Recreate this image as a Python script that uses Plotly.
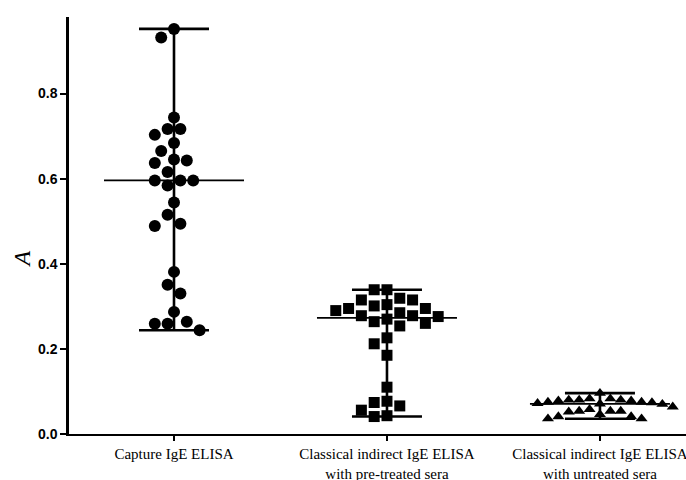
import plotly.graph_objects as go

# ---- data -------------------------------------------------------------
categories = [
    "Capture IgE ELISA",
    "Classical indirect IgE ELISA<br>with pre-treated sera",
    "Classical indirect IgE ELISA<br>with untreated sera",
]

capture_abs = [0.952, 0.932, 0.744, 0.717, 0.717, 0.703, 0.684, 0.665, 0.645,
               0.643, 0.637, 0.616, 0.596, 0.596, 0.596, 0.584, 0.544, 0.515,
               0.494, 0.489, 0.381, 0.351, 0.330, 0.287, 0.264, 0.259, 0.259,
               0.244]

pretreated_abs = [0.339, 0.339, 0.319, 0.315, 0.315, 0.304, 0.301, 0.295,
                  0.295, 0.290, 0.285, 0.278, 0.278, 0.276, 0.270, 0.264,
                  0.260, 0.254, 0.226, 0.212, 0.185, 0.110, 0.077, 0.074,
                  0.066, 0.056, 0.043, 0.041]

untreated_abs = [0.096, 0.083, 0.083, 0.080, 0.080, 0.080, 0.078, 0.078,
                 0.075, 0.075, 0.074, 0.072, 0.071, 0.070, 0.064, 0.058,
                 0.054, 0.054, 0.054, 0.052, 0.046, 0.041, 0.041, 0.036,
                 0.036]

y_ticks = [0.0, 0.2, 0.4, 0.6, 0.8]

# ---- layout geometry --------------------------------------------------
W, H = 686, 480
M_L, M_R, M_T, M_B = 69, 0, 17, 46
X_RANGE = [0.507, 3.404]
Y_RANGE = [0.0, 0.98]
plot_w = W - M_L - M_R
plot_h = H - M_T - M_B
px_per_x = plot_w / (X_RANGE[1] - X_RANGE[0])
px_per_y = plot_h / (Y_RANGE[1] - Y_RANGE[0])


def swarm_offsets(values, diam, step):
    """Beeswarm layout: push each point sideways until it clears the others."""
    placed = []
    offsets = []
    for i, v in enumerate(values):
        py = v * px_per_y
        sign = 1 if i % 2 == 0 else -1
        cands = [0.0]
        for k in range(1, 60):
            cands += [sign * k * step, -sign * k * step]
        chosen = cands[-1]
        for c in cands:
            if all((c - qx) ** 2 + (py - qy) ** 2 >= diam ** 2 for qx, qy in placed):
                chosen = c
                break
        placed.append((chosen, py))
        offsets.append(chosen / px_per_x)
    return offsets


def median(vals):
    s = sorted(vals)
    n = len(s)
    return s[n // 2] if n % 2 else 0.5 * (s[n // 2 - 1] + s[n // 2])


groups = [
    (capture_abs, "circle", 12, 12.8, 6.4),
    (pretreated_abs, "square", 11, 12.6, 6.4),
    (untreated_abs, "triangle-up", 10.5, 10.4, 5.2),
]

fig = go.Figure()

cap_half = 35 / px_per_x
med_half = 70 / px_per_x

for gi, (vals, symbol, msize, diam, step) in enumerate(groups):
    pos = gi + 1
    lo, hi, md = min(vals), max(vals), median(vals)
    # range whisker with caps
    fig.add_trace(go.Scatter(
        x=[pos, pos, None, pos - cap_half, pos + cap_half, None,
           pos - cap_half, pos + cap_half],
        y=[lo, hi, None, hi, hi, None, lo, lo],
        mode="lines", line=dict(color="black", width=2.6),
        hoverinfo="skip", showlegend=False))
    # median line
    fig.add_trace(go.Scatter(
        x=[pos - med_half, pos + med_half], y=[md, md],
        mode="lines", line=dict(color="black", width=1.8),
        hoverinfo="skip", showlegend=False))
    # individual points
    offs = swarm_offsets(vals, diam, step)
    fig.add_trace(go.Scatter(
        x=[pos + o for o in offs], y=vals, mode="markers",
        marker=dict(symbol=symbol, size=msize, color="black",
                    line=dict(width=0)),
        showlegend=False))

fig.add_annotation(
    x=0, xref="paper", xshift=-47, y=0.41, yref="y",
    text="A", textangle=-90, showarrow=False,
    xanchor="center", yanchor="middle",
    font=dict(family="Liberation Serif", size=24, color="black",
              style="italic"))

fig.update_layout(
    width=W, height=H,
    margin=dict(l=M_L, r=M_R, t=M_T, b=M_B, pad=0, autoexpand=False),
    paper_bgcolor="white", plot_bgcolor="white",
    showlegend=False,
    xaxis=dict(
        range=X_RANGE, tickmode="array", tickvals=[1, 2, 3],
        ticktext=categories, showgrid=False, zeroline=False,
        showline=True, linecolor="black", linewidth=2,
        ticks="outside", ticklen=5, tickwidth=2, tickcolor="black",
        ticklabeloverflow="allow", automargin=False,
        tickfont=dict(family="Liberation Serif", size=15, color="black"),
    ),
    yaxis=dict(
        range=Y_RANGE, tickmode="array", tickvals=y_ticks,
        tickformat=".1f", showgrid=False, zeroline=False,
        showline=True, linecolor="black", linewidth=2.5,
        ticks="outside", ticklen=6, tickwidth=2, tickcolor="black",
        automargin=False,
        tickfont=dict(family="Liberation Sans", size=14, color="black",
                      weight="bold"),
    ),
)

fig.write_html("out.html")
